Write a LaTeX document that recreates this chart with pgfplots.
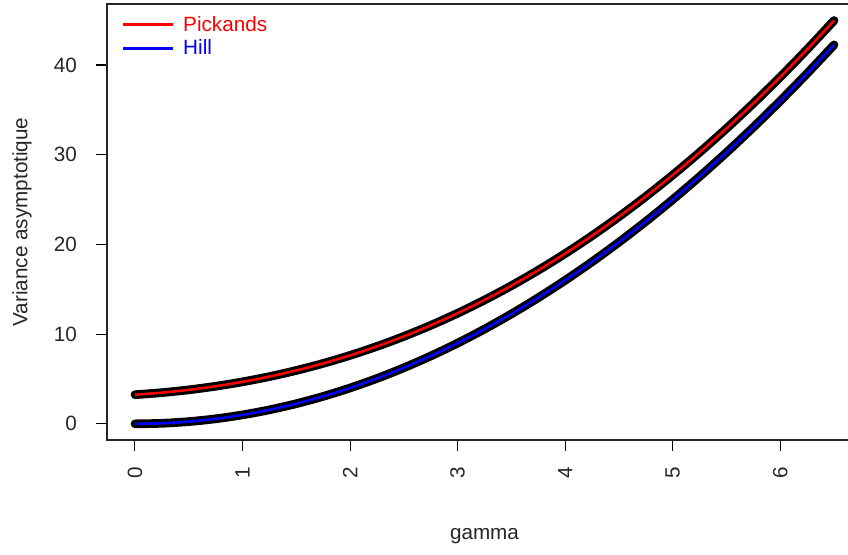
\documentclass[border=0pt]{standalone}
\usepackage{pgfplots}
\pgfplotsset{compat=1.18}
\usepackage{fontspec}
\setmainfont{Liberation Sans}
\begin{document}
\begin{tikzpicture}
\begin{axis}[
  scale only axis,
  width=566.25pt, height=327pt,
  at={(0,0)}, anchor=south west,
  xmin=-0.26, xmax=6.76, ymin=-1.8, ymax=46.8,
  xtick={0,1,2,3,4,5,6}, ytick={0,10,20,30,40},
  tick align=outside, xtick pos=bottom, ytick pos=left,
  major tick length=8pt,
  tick style={black, line width=0.8pt},
  axis line style={black!85, line width=0.9pt},
  /pgf/number format/assume math mode=true,
  tick label style={font=\fontsize{15.5}{18}\selectfont, black!85},
  xticklabel style={rotate=90, anchor=east, xshift=-9pt},
  yticklabel style={xshift=-11pt},
  xlabel={gamma}, ylabel={Variance asymptotique},
  every axis x label/.style={at={(axis description cs:0.5,-0.2213)}, anchor=center, font=\fontsize{15.5}{18}\selectfont, black!85},
  every axis y label/.style={at={(axis description cs:-0.1126,0.5)}, rotate=90, anchor=center, font=\fontsize{15.5}{18}\selectfont, black!85},
  legend style={at={(axis description cs:0.014,0.985)}, anchor=north west, draw=none, fill=none,
    font=\fontsize{15.5}{17}\selectfont, row sep=1pt, nodes={inner xsep=7pt}},
  legend cell align=left,
  legend image code/.code={\draw[line width=2.2pt] (0pt,0pt) -- (30pt,0pt); \path (0pt,0pt) -- (37pt,0pt);},
]
\addplot[black, line width=6.5pt, line cap=round, line join=round, smooth, forget plot] coordinates {
(0,3.249) (0.25,3.478) (0.5,3.791) (0.75,4.192) (1,4.683) (1.25,5.269) (1.5,5.953) (1.75,6.740)
(2,7.632) (2.25,8.633) (2.5,9.748) (2.75,10.979) (3,12.329) (3.25,13.802) (3.5,15.400) (3.75,17.126)
(4,18.982) (4.25,20.970) (4.5,23.091) (4.75,25.346) (5,27.737) (5.25,30.263) (5.5,32.927) (5.75,35.729)
(6,38.668) (6.25,41.746) (6.5,44.959)};
\addplot[black, line width=6.5pt, line cap=round, line join=round, smooth, forget plot] coordinates {
(0,0) (0.25,0.0625) (0.5,0.25) (0.75,0.5625) (1,1) (1.25,1.5625) (1.5,2.25) (1.75,3.0625)
(2,4) (2.25,5.0625) (2.5,6.25) (2.75,7.5625) (3,9) (3.25,10.5625) (3.5,12.25) (3.75,14.0625)
(4,16) (4.25,18.0625) (4.5,20.25) (4.75,22.5625) (5,25) (5.25,27.5625) (5.5,30.25) (5.75,33.0625)
(6,36) (6.25,39.0625) (6.5,42.25)};
\addplot[red, line width=1.9pt, smooth] coordinates {
(0,3.249) (0.25,3.478) (0.5,3.791) (0.75,4.192) (1,4.683) (1.25,5.269) (1.5,5.953) (1.75,6.740)
(2,7.632) (2.25,8.633) (2.5,9.748) (2.75,10.979) (3,12.329) (3.25,13.802) (3.5,15.400) (3.75,17.126)
(4,18.982) (4.25,20.970) (4.5,23.091) (4.75,25.346) (5,27.737) (5.25,30.263) (5.5,32.927) (5.75,35.729)
(6,38.668) (6.25,41.746) (6.5,44.959)};
\addlegendentry{\textcolor{red}{Pickands}}
\addplot[blue, line width=1.9pt, smooth] coordinates {
(0,0) (0.25,0.0625) (0.5,0.25) (0.75,0.5625) (1,1) (1.25,1.5625) (1.5,2.25) (1.75,3.0625)
(2,4) (2.25,5.0625) (2.5,6.25) (2.75,7.5625) (3,9) (3.25,10.5625) (3.5,12.25) (3.75,14.0625)
(4,16) (4.25,18.0625) (4.5,20.25) (4.75,22.5625) (5,25) (5.25,27.5625) (5.5,30.25) (5.75,33.0625)
(6,36) (6.25,39.0625) (6.5,42.25)};
\addlegendentry{\textcolor{blue}{Hill}}
\end{axis}
\pgfresetboundingbox
\useasboundingbox (-80.25pt,-85.5pt) rectangle (555.75pt,330pt);
\end{tikzpicture}
\end{document}
